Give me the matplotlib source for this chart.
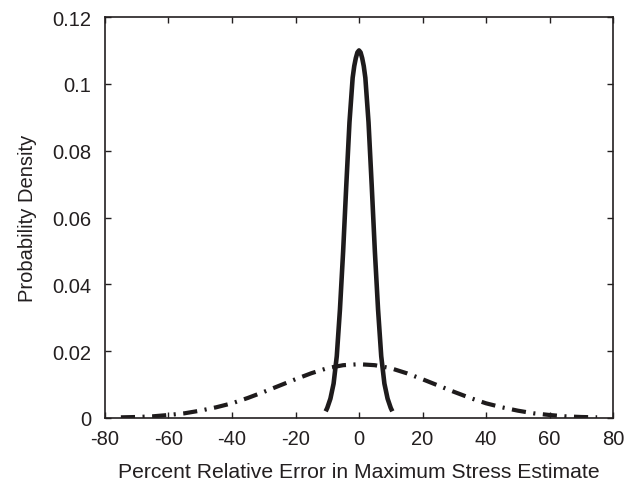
import matplotlib.pyplot as plt

plt.rcParams['font.family'] = ['Liberation Sans', 'DejaVu Sans']
plt.rcParams['axes.unicode_minus'] = False

# narrow curve (solid)
x_narrow = [-10.5, -10, -9, -8, -7, -6, -5, -4, -3, -2, -1.5, -1, -0.5, 0,
            0.5, 1, 1.5, 2, 3, 4, 5, 6, 7, 8, 9, 10, 10.5]
y_narrow = [0.0020, 0.0030, 0.0058, 0.0103, 0.0185, 0.0325, 0.0498, 0.0697, 0.0885, 0.1018, 0.1053,
            0.1077, 0.1094, 0.1100,
            0.1094, 0.1077, 0.1053, 0.1018, 0.0885, 0.0697, 0.0498, 0.0325, 0.0185, 0.0103, 0.0058,
            0.0030, 0.0020]

# wide curve (dash-dot)
x_wide = [-75, -70, -65, -60, -55, -50, -45, -40, -35, -30, -25, -20, -15, -10, -5, 0,
          5, 10, 15, 20, 25, 30, 35, 40, 45, 50, 55, 60, 65, 70, 75]
y_wide = [0.0002, 0.0003, 0.0005, 0.0009, 0.0014, 0.0022, 0.0032, 0.0044, 0.0060, 0.0078, 0.0097,
          0.0116, 0.0134, 0.0149, 0.0158, 0.0161,
          0.0158, 0.0149, 0.0134, 0.0116, 0.0097, 0.0078, 0.0060, 0.0044, 0.0032, 0.0022,
          0.0014, 0.0009, 0.0005, 0.0003, 0.0002]

xticks = [-80, -60, -40, -20, 0, 20, 40, 60, 80]
yticks = [0, 0.02, 0.04, 0.06, 0.08, 0.1, 0.12]
ytick_labels = ['0', '0.02', '0.04', '0.06', '0.08', '0.1', '0.12']

col = '#1e1b1c'
txt = '#231f20'

fig = plt.figure(figsize=(6.27, 4.85), dpi=100)
ax = fig.add_axes([105/627, 1-419/485, (613-105)/627, (419-18)/485])

ax.plot(x_wide, y_wide, color=col, lw=3.0, dashes=(3.4, 1.8, 0.5, 1.8),
        dash_capstyle='butt')
ax.plot(x_narrow, y_narrow, color=col, lw=3.3, solid_capstyle='butt',
        solid_joinstyle='round')

ax.set_xlim(-80, 80)
ax.set_ylim(0, 0.12)
ax.set_xticks(xticks)
ax.set_yticks(yticks)
ax.set_yticklabels(ytick_labels)
ax.tick_params(direction='in', top=True, right=True, length=4, width=1,
               labelsize=14.5, colors=txt)
ax.tick_params(axis='x', pad=8)
ax.tick_params(axis='y', pad=10)
for s in ax.spines.values():
    s.set_linewidth(1.2)
    s.set_color(txt)

ax.set_xlabel('Percent Relative Error in Maximum Stress Estimate', fontsize=15.2,
              labelpad=10, color=txt)
ax.set_ylabel('Probability Density', fontsize=14.5, labelpad=11, color=txt)

fig.savefig('out.png', dpi=100)
